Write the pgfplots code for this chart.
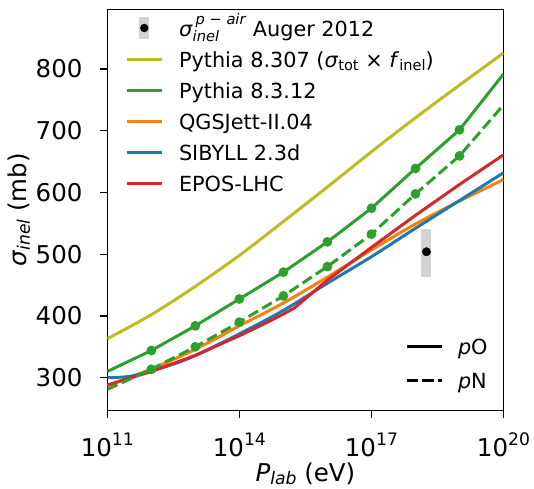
\documentclass[border=0pt]{standalone}
\usepackage{pgfplots}
\pgfplotsset{compat=1.18}
\usepackage{fontspec}
\setmainfont{DejaVu Sans}
\newcommand\af{\fontsize{24.5bp}{28bp}\selectfont}
\newcommand\asf{\fontsize{17.2bp}{18bp}\selectfont}
\newcommand\lf{\fontsize{20.8bp}{25bp}\selectfont}
\newcommand\lsf{\fontsize{14.6bp}{15bp}\selectfont}
\newcommand\tp[1]{10\raisebox{10.7bp}{\asf #1}}
\definecolor{tabolive}{HTML}{BCBD22}
\definecolor{tabgreen}{HTML}{2CA02C}
\definecolor{taborange}{HTML}{FF7F0E}
\definecolor{tabblue}{HTML}{1F77B4}
\definecolor{tabred}{HTML}{D62728}
\definecolor{lgray}{HTML}{D3D3D3}
\tikzset{mpldash/.style={dash pattern=on 11.1bp off 4.8bp}}
\begin{document}
\begin{tikzpicture}
\begin{axis}[
  name=ax,
  scale only axis, width=396.2bp, height=401.4bp,
  xmode=log, xmin=1e11, xmax=1e20, ymin=246.5, ymax=896.8,
  xtick={1e11,1e14,1e17,1e20},
  xticklabels={\tp{11},\tp{14},\tp{17},\tp{20}},
  minor xtick={},
  ytick={300,400,500,600,700,800},
  yticklabels={300,400,500,600,700,800},
  tick align=outside, major tick length=7.3bp,
  tick pos=left,
  every tick/.style={black, line width=1.4bp},
  axis line style={line width=1.5bp},
  tick label style={font=\af},
  xticklabel style={anchor=base, inner sep=0pt, yshift=-38.3bp},
  yticklabel style={anchor=east, inner sep=0pt, xshift=-17.3bp},
  xlabel={\textit{P}\raisebox{-3bp}{\asf\textit{lab}} (eV)},
  ylabel={\textit{σ}\raisebox{-3.5bp}{\asf\textit{inel}} (mb)},
  xlabel style={at={(axis description cs:0.5,-0.177)}, anchor=base, inner sep=0pt, font=\af},
  ylabel style={at={(axis description cs:-0.204,0.5)}, anchor=base, inner sep=0pt, font=\af},
  legend cell align=left,
  legend style={draw=none, fill=none, inner sep=0pt, outer sep=0pt,
    at={(0.0447,0.992)}, anchor=north west, font=\lf,
    row sep=0pt, column sep=16bp,
    nodes={inner sep=0pt, text height=23.5bp, text depth=7.5bp}},
]
% legend entries
\addlegendimage{legend image code/.code={
  \path[draw=none, fill=none] (0bp,-1bp) rectangle (35bp,1bp);
  \fill[lgray, draw=none] (12.3bp,-11.3bp) rectangle (22.3bp,11.3bp);
  \fill[black, draw=none] (17.8bp,0bp) circle (4.2bp);}}
\addlegendentry{\textit{σ}\rlap{\raisebox{-5bp}{\lsf\textit{inel}}}\hspace{3bp}\raisebox{11.5bp}{\lsf\textit{p} − \textit{air}} Auger 2012}
\addlegendimage{legend image code/.code={\draw[tabolive, line width=3bp] (0bp,0bp) -- (35bp,0bp);}}
\addlegendentry{Pythia 8.307 (\textit{σ}\raisebox{-3bp}{\lsf tot} × \textit{f}\raisebox{-3bp}{\lsf inel})}
\addlegendimage{legend image code/.code={\draw[tabgreen, line width=3bp] (0bp,0bp) -- (35bp,0bp);}}
\addlegendentry{Pythia 8.3.12}
\addlegendimage{legend image code/.code={\draw[taborange, line width=3bp] (0bp,0bp) -- (35bp,0bp);}}
\addlegendentry{QGSJett-II.04}
\addlegendimage{legend image code/.code={\draw[tabblue, line width=3bp] (0bp,0bp) -- (35bp,0bp);}}
\addlegendentry{SIBYLL 2.3d}
\addlegendimage{legend image code/.code={\draw[tabred, line width=3bp] (0bp,0bp) -- (35bp,0bp);}}
\addlegendentry{EPOS-LHC}

% Pythia 8.307
\addplot[forget plot, tabolive, line width=3bp, smooth] coordinates {
 (1e11,363) (1e12,402) (1e13,448) (1e14,498) (1e15,553) (1e16,609)
 (1e17,666) (1e18,721) (1e19,774) (1e20,826)};
% QGSJet
\addplot[forget plot, taborange, line width=3bp, smooth] coordinates {
 (1e11,287) (1e12,314) (1e13,346) (1e14,384) (1e15,421) (1e16,463)
 (1e17,507) (1e18,549) (1e19,586) (1e20,621)};
% SIBYLL
\addplot[forget plot, tabblue, line width=3bp, smooth] coordinates {
 (1e11,300) (3.16e11,302) (1e12,311) (3.16e12,322) (1e13,336) (1e14,371) (1e15,409) (1e16,453)
 (1e17,496) (1e18,542) (1e19,587) (1e20,632)};
% EPOS
\addplot[forget plot, tabred, line width=3bp] coordinates {
 (1e11,288) (1e12,310) (1e13,336) (1e14,368) (3.16e14,385) (1e15,403) (1.78e15,413) (1e16,458)
 (1e17,511) (1e18,563) (1e19,613) (1e20,661)};
% Pythia 8.3.12 pO
\addplot[forget plot, tabgreen, line width=3bp, mark=*, mark size=3.3bp, mark indices={2,3,4,5,6,7,8,9}] coordinates {
 (1e11,310) (1e12,344) (1e13,384) (1e14,427.5) (1e15,471) (1e16,520)
 (1e17,574.5) (1e18,639) (1e19,701.5) (1e20,792)};
% Pythia 8.3.12 pN
\addplot[forget plot, tabgreen, line width=3bp, mpldash, mark=*, mark size=3.3bp, mark options={solid}, mark indices={2,3,4,5,6,7,8,9}] coordinates {
 (1e11,281) (1e12,313.6) (1e13,350) (1e14,390) (1e15,432.5) (1e16,480)
 (1e17,532.5) (1e18,597.7) (1e19,659.3) (1e20,742)};
% Auger 2012
\addplot[forget plot, lgray, only marks, mark=none,
  error bars/.cd, y dir=both, y explicit, error mark=none,
  error bar style={line width=10bp, lgray}] coordinates {(1.778e18,501.6) +- (0,38.9)};
\addplot[forget plot, black, only marks, mark=*, mark size=4.2bp] coordinates {(1.778e18,504)};
\end{axis}
\begin{axis}[
  at={(ax.south west)}, anchor=south west,
  scale only axis, width=396.2bp, height=401.4bp,
  hide axis, xmin=0, xmax=1, ymin=0, ymax=1,
  legend cell align=left,
  legend style={draw=none, fill=none, inner sep=0pt, outer sep=0pt,
    at={(0.7514,0.2005)}, anchor=north west, font=\lf,
    row sep=0pt, column sep=15bp,
    nodes={inner sep=0pt, text height=24.65bp, text depth=8.65bp}},
]
\addlegendimage{legend image code/.code={\draw[black, line width=3bp] (0bp,0bp) -- (35bp,0bp);}}
\addlegendentry{\textit{p}O}
\addlegendimage{legend image code/.code={\draw[black, line width=3bp, mpldash] (0bp,0bp) -- (35bp,0bp);}}
\addlegendentry{\textit{p}N}
\end{axis}
\path ([shift={(-107.3bp,-78.3bp)}]ax.south west) rectangle ([shift={(30.5bp,9.3bp)}]ax.north east);
\end{tikzpicture}
\end{document}
